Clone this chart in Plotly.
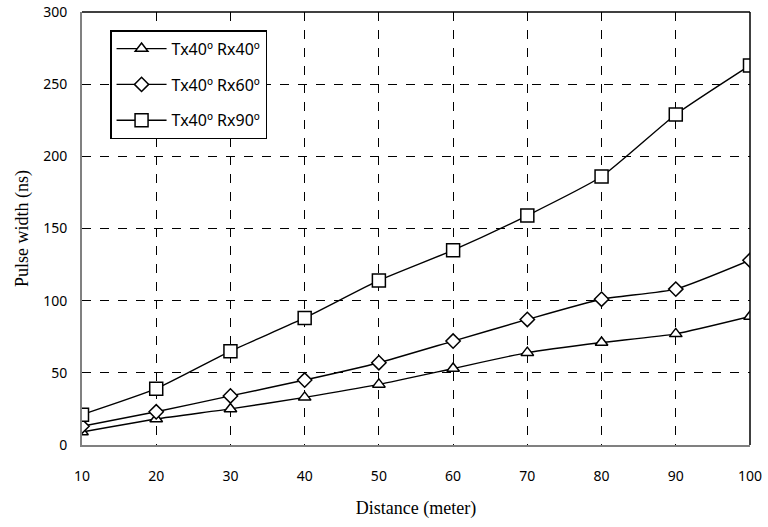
import plotly.graph_objects as go

distance = [10, 20, 30, 40, 50, 60, 70, 80, 90, 100]
rx40 = [9, 18, 25, 33, 42, 53, 64, 71, 77, 89]
rx60 = [13, 23, 34, 45, 57, 72, 87, 101, 108, 128]
rx90 = [21, 39, 65, 88, 114, 135, 159, 186, 229, 263]
names = ["Tx40º Rx40º", "Tx40º Rx60º", "Tx40º Rx90º"]
symbols = ["triangle-up", "diamond", "square"]
sizes = [11, 11, 13]

fig = go.Figure()
for i, (ys, nm, sym, sz) in enumerate(zip([rx40, rx60, rx90], names, symbols, sizes)):
    fig.add_trace(go.Scatter(
        x=distance, y=ys, name=nm, mode="lines+markers", legendgroup=f"g{i}",
        line=dict(color="black", width=1.4, shape="spline", smoothing=0.5),
        marker=dict(symbol=sym, size=sz, color="white",
                    line=dict(color="black", width=1.5)),
    ))

grid = dict(showgrid=True, gridcolor="black", griddash="dash", gridwidth=1)
fig.update_xaxes(range=[10, 100], tickvals=distance, ticks="", **grid,
                 showline=True, linecolor="#808080", linewidth=2,
                 zeroline=False, automargin=False, ticklabelstandoff=17,
                 tickfont=dict(family="Noto Sans", size=14, color="black"),
                 title=dict(text="Distance (meter)", standoff=18,
                            font=dict(family="Liberation Serif", size=18, color="black")))
fig.update_yaxes(range=[0, 300], dtick=50, ticks="", **grid,
                 showline=True, linecolor="#808080", linewidth=2,
                 zeroline=False, automargin=False, ticklabelstandoff=10,
                 tickfont=dict(family="Noto Sans", size=14, color="black"),
                 title=dict(text="Pulse width (ns)", standoff=10,
                            font=dict(family="Liberation Serif", size=18, color="black")))
fig.add_shape(type="line", xref="paper", yref="paper", x0=0, x1=1, y0=1, y1=1,
              line=dict(color="black", width=1.5))
fig.add_shape(type="line", xref="paper", yref="paper", x0=1, x1=1, y0=0, y1=1,
              line=dict(color="black", width=1.5))

fig.update_layout(
    width=768, height=527,
    margin=dict(l=82, r=18, t=12, b=82, autoexpand=False),
    plot_bgcolor="white", paper_bgcolor="white",
    legend=dict(x=0.042, y=0.958, xanchor="left", yanchor="top",
                bgcolor="white", bordercolor="black", borderwidth=1.5,
                font=dict(family="Noto Sans", size=16, color="black"),
                itemwidth=50, tracegroupgap=12),
    showlegend=True,
)
fig.write_html("out.html")
